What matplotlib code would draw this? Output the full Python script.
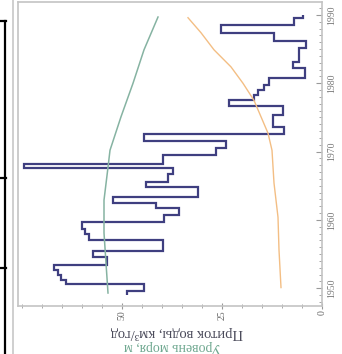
import matplotlib
matplotlib.use("Agg")
import matplotlib.pyplot as plt
from matplotlib.lines import Line2D
from matplotlib.ticker import MultipleLocator, FixedLocator

plt.rcParams['font.family'] = ['Liberation Serif', 'DejaVu Serif']

# River inflow, km3/yr: step values between consecutive edge years
inflow_edges = [1949.0, 1949.6, 1950.6, 1951.2, 1951.9, 1952.6, 1953.4, 1954.5,
                1955.4, 1957.0, 1957.9, 1958.6, 1959.7, 1960.7, 1961.7, 1962.5,
                1963.3, 1964.8, 1965.5, 1966.7, 1967.65, 1968.2, 1969.5, 1970.5,
                1971.5, 1972.6, 1973.6, 1975.4, 1976.7, 1977.5, 1978.3, 1979.0,
                1979.7, 1980.8, 1982.2, 1983.1, 1985.2, 1986.2, 1987.4, 1988.5,
                1989.6, 1990.0]
inflow = [48.75, 44.5, 64.0, 65.25, 66.0, 67.0, 53.75, 57.25, 39.75, 58.25,
          59.25, 60.0, 39.5, 35.75, 41.5, 52.25, 31.0, 44.0, 38.5, 37.25,
          74.5, 39.75, 26.5, 24.0, 44.5, 9.5, 12.25, 9.75, 23.25, 17.0,
          16.0, 14.5, 13.25, 4.25, 7.25, 5.75, 4.0, 12.0, 25.25, 7.0, 4.75]

# Sea level, m
sea_years = [1949.3, 1953.7, 1958.1, 1962.9, 1967.7, 1970.2, 1975.1, 1980.0, 1984.9, 1989.7]
sea_level = [53.5, 54.0, 54.5, 54.5, 53.5, 53.0, 50.25, 47.25, 44.5, 41.0]

# Salinity
salt_years = [1950.1, 1955.6, 1960.4, 1965.4, 1970.2, 1972.7, 1975.1, 1977.5,
              1980.0, 1982.4, 1984.9, 1987.4, 1989.6]
salinity = [10.25, 10.75, 11.0, 12.0, 12.5, 13.5, 15.25, 17.0, 19.75, 22.75,
            27.0, 30.25, 33.5]

value_ticks = [0, 25, 50]
year_ticks = [1950, 1960, 1970, 1980, 1990]

W, H = 342, 354
fig = plt.figure(figsize=(W / 100, H / 100), dpi=100)


def fx(x):
    return x / W


def fy(y):
    return 1 - y / H


ax = fig.add_axes([fx(18), fy(306), fx(322) - fx(18), fy(2) - fy(306)])
ax.set_xlim(76, 0)
ax.set_ylim(1947.4, 1991.9)

ax.stairs(inflow, inflow_edges, orientation='horizontal', baseline=None,
          color='#3f3f80', linewidth=1.6)
ax.plot(sea_level, sea_years, color='#86b3a2', linewidth=1.1)
ax.plot(salinity, salt_years, color='#f3be84', linewidth=1.0)

for s in ax.spines.values():
    s.set_color('#c4c4c4')
    s.set_linewidth(1.2)

ax.yaxis.tick_right()
ax.yaxis.set_major_locator(FixedLocator(year_ticks))
ax.yaxis.set_minor_locator(MultipleLocator(1))
ax.set_yticklabels([str(y) for y in year_ticks], rotation=90, va='center',
                   fontsize=7, color='#777777')
ax.tick_params(axis='y', which='both', direction='in', color='#999999', pad=4)
ax.tick_params(axis='y', which='major', length=4)
ax.tick_params(axis='y', which='minor', length=2.5)

ax.xaxis.set_major_locator(FixedLocator(value_ticks))
ax.xaxis.set_minor_locator(MultipleLocator(5))
ax.set_xticklabels([str(v) for v in value_ticks], rotation=90, ha='center',
                   fontsize=7, color='#666666')
ax.tick_params(axis='x', which='both', direction='inout', color='#999999', pad=1)
ax.tick_params(axis='x', which='major', length=4)
ax.tick_params(axis='x', which='minor', length=3)

fig.text(fx(177), fy(332), 'Приток воды, км³/год', rotation=180,
         ha='center', va='center', fontsize=10.5, color='#4a4a5a')
fig.text(fx(172), fy(346), 'Уровень моря, м', rotation=180,
         ha='center', va='center', fontsize=10, color='#6fa890')

# page borders on the left
fig.add_artist(Line2D([fx(5), fx(5)], [fy(21), fy(354)], color='black', linewidth=1.6))
for yy in (21, 178, 268):
    fig.add_artist(Line2D([fx(0), fx(5.5)], [fy(yy), fy(yy)], color='black', linewidth=1.6))
fig.add_artist(Line2D([fx(13), fx(13)], [fy(0), fy(354)], color='#cccccc', linewidth=1.3))

fig.savefig('out.png', dpi=100)
